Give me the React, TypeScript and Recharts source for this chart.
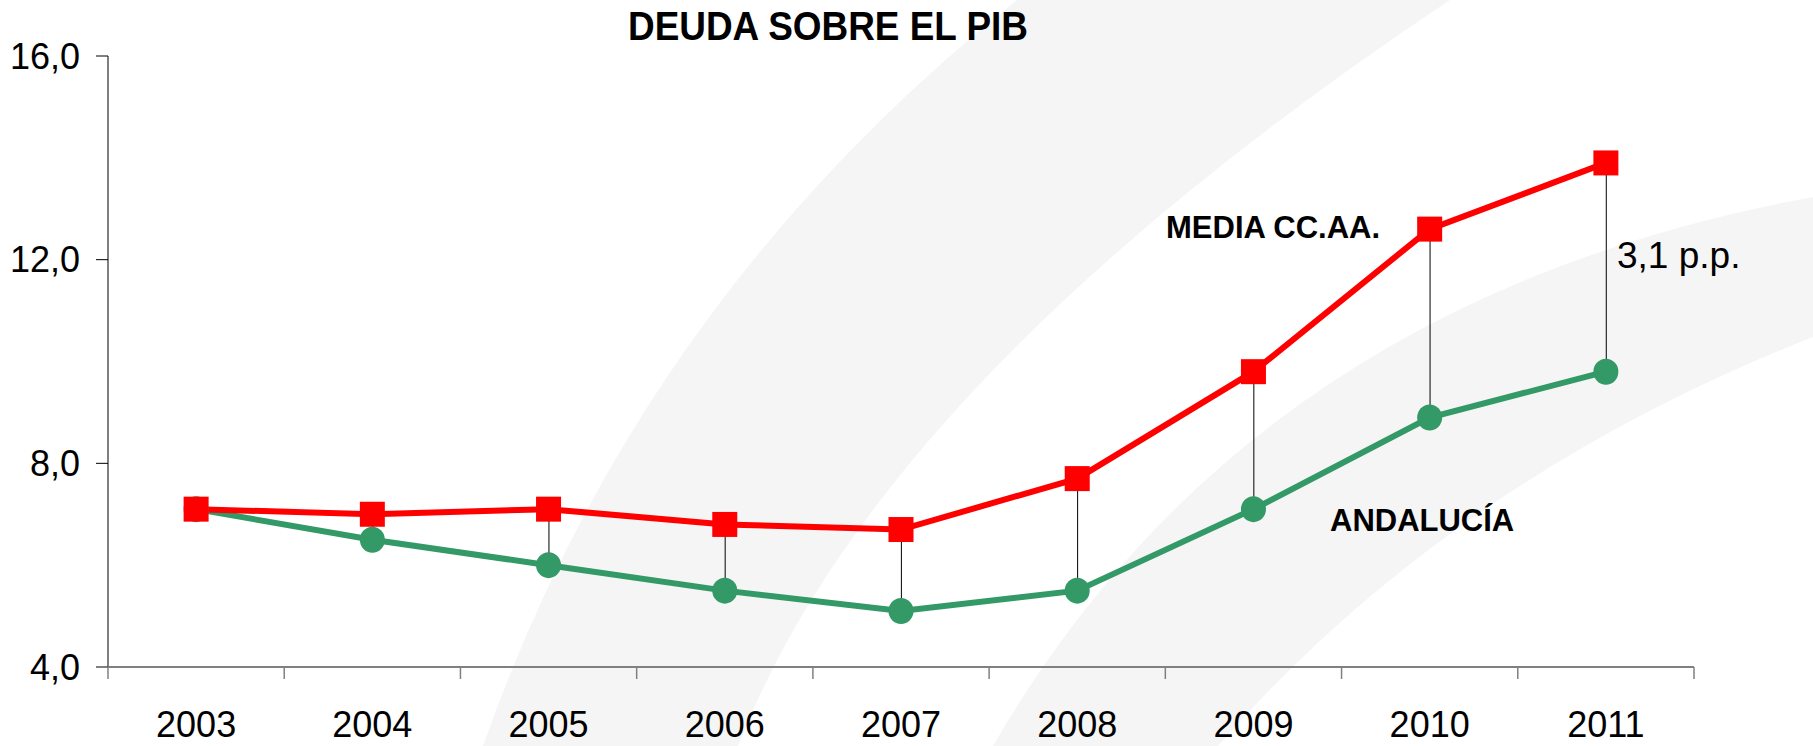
import React from "react";
import { ComposedChart, Line, Bar, XAxis, YAxis } from "recharts";

const years = [2003, 2004, 2005, 2006, 2007, 2008, 2009, 2010, 2011];
const mediaCCAA = [7.1, 7.0, 7.1, 6.8, 6.7, 7.7, 9.8, 12.6, 13.9];
const andalucia = [7.1, 6.5, 6.0, 5.5, 5.1, 5.5, 7.1, 8.9, 9.8];
const yTicks = [4, 8, 12, 16];
const boundaryTicks = [2002.5, 2003.5, 2004.5, 2005.5, 2006.5, 2007.5, 2008.5, 2009.5, 2010.5, 2011.5];

const title = "DEUDA SOBRE EL PIB";
const mediaLabel = "MEDIA CC.AA.";
const andaluciaLabel = "ANDALUCÍA";
const gapLabel = "3,1 p.p.";

const data = years.map((y, i) => ({
  year: y,
  media: mediaCCAA[i],
  andalucia: andalucia[i],
  gap: [andalucia[i], mediaCCAA[i]],
}));

const FONT = "'Liberation Sans', Arial, Helvetica, sans-serif";
const RED = "#FF0000";
const GREEN = "#339966";
const AXIS = "#808080";

const SquareDot = (props: any) => {
  const { cx, cy } = props;
  if (cx == null || cy == null) return null;
  return <rect x={cx - 12.5} y={cy - 12.5} width={25} height={25} fill={RED} />;
};

const CircleDot = (props: any) => {
  const { cx, cy } = props;
  if (cx == null || cy == null) return null;
  return <ellipse cx={cx} cy={cy} rx={12.5} ry={13} fill={GREEN} />;
};

const XTick = (props: any) => {
  const { x, y, payload } = props;
  const v = payload.value;
  if (Number.isInteger(v)) {
    return (
      <text x={x} y={y + 70} textAnchor="middle" fontSize={36} fontFamily={FONT} fill="#000">
        {v}
      </text>
    );
  }
  return <line x1={x} x2={x} y1={y} y2={y + 12} stroke={AXIS} strokeWidth={1.5} />;
};

const fmtY = (v: number) => v.toFixed(1).replace(".", ",");

export default function App() {
  return (
    <div style={{ position: "absolute", left: 0, top: 0, width: 1813, height: 746, background: "#fff" }}>
      <svg width={1813} height={746} style={{ position: "absolute", left: 0, top: 0 }}>
        <path d="M 483 746 Q 640 300 1017 0 L 1450 0 Q 880 380 738 746 Z" fill="#f5f5f5" />
        <path d="M 993 746 Q 1250 300 1813 197 L 1813 337 Q 1450 480 1218 746 Z" fill="#f5f5f5" />
      </svg>
      <div style={{ position: "absolute", left: 0, top: 0 }}>
        <ComposedChart
          width={1813}
          height={746}
          data={data}
          margin={{ top: 56, right: 119, bottom: 0, left: 0 }}
        >
          <XAxis
            dataKey="year"
            type="number"
            domain={[2002.5, 2011.5]}
            ticks={[...boundaryTicks, ...years].sort((a, b) => a - b)}
            interval={0}
            tickSize={0}
            tickMargin={0}
            tickLine={false}
            tick={<XTick />}
            height={79}
            axisLine={{ stroke: AXIS, strokeWidth: 2 }}
          />
          <YAxis
            domain={[4, 16]}
            ticks={yTicks}
            width={108}
            tickSize={12}
            tickMargin={16}
            tickFormatter={fmtY}
            tick={{ fontSize: 36, fontFamily: FONT, fill: "#000" }}
            tickLine={{ stroke: "#000", strokeWidth: 1 }}
            axisLine={{ stroke: AXIS, strokeWidth: 2 }}
            allowDataOverflow
          />
          <Bar dataKey="gap" barSize={1} fill="#000" isAnimationActive={false} />
          <Line
            dataKey="andalucia"
            stroke={GREEN}
            strokeWidth={6}
            dot={<CircleDot />}
            activeDot={false}
            isAnimationActive={false}
          />
          <Line
            dataKey="media"
            stroke={RED}
            strokeWidth={6}
            dot={<SquareDot />}
            activeDot={false}
            isAnimationActive={false}
          />
        </ComposedChart>
      </div>
      <svg width={1813} height={746} style={{ position: "absolute", left: 0, top: 0, pointerEvents: "none" }}>
        <text
          x={828}
          y={40}
          textAnchor="middle"
          fontSize={40}
          fontWeight="bold"
          fontFamily={FONT}
          fill="#000"
          textLength={400}
          lengthAdjust="spacingAndGlyphs"
        >
          {title}
        </text>
        <text x={1166} y={238} fontSize={31} fontWeight="bold" fontFamily={FONT} fill="#000">
          {mediaLabel}
        </text>
        <text x={1330} y={531} fontSize={31} fontWeight="bold" fontFamily={FONT} fill="#000">
          {andaluciaLabel}
        </text>
        <text x={1617} y={268} fontSize={37} fontFamily={FONT} fill="#000">
          {gapLabel}
        </text>
      </svg>
    </div>
  );
}
